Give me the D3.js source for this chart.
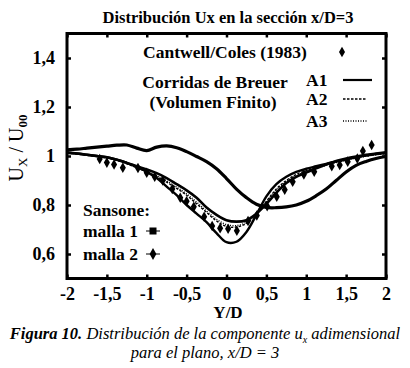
<!DOCTYPE html>
<html>
<head>
<meta charset="utf-8">
<script src="https://cdn.jsdelivr.net/npm/d3@7"></script>
<style>
  body { margin: 0; background: #fff; }
</style>
</head>
<body>
<div id="chart"></div>
<script>
// posiciones Y/D comunes para las curvas
const gridYD = [-2, -1.875, -1.75, -1.625, -1.5, -1.375, -1.25, -1.125, -1, -0.875, -0.75, -0.625, -0.5, -0.375, -0.25, -0.125,
  0, 0.125, 0.25, 0.375, 0.5, 0.625, 0.75, 0.875, 1, 1.125, 1.25, 1.375, 1.5, 1.625, 1.75, 1.875, 2];

// Sansone malla 1 (curva desplazada)
const malla1 = [1.025, 1.028, 1.032, 1.036, 1.040, 1.044, 1.045, 1.032, 1.022, 1.036, 1.041, 1.034, 1.018, 0.998, 0.977, 0.948,
  0.908, 0.865, 0.83, 0.803, 0.79, 0.789, 0.792, 0.80, 0.815, 0.838, 0.865, 0.90, 0.935, 0.962, 0.978, 0.99, 0.998];
// Sansone malla 2
const malla2 = [1.015, 1.01, 1.005, 1.0, 0.995, 0.985, 0.972, 0.958, 0.945, 0.93, 0.91, 0.885, 0.86, 0.83, 0.79, 0.76,
  0.738, 0.732, 0.738, 0.765, 0.805, 0.85, 0.89, 0.915, 0.932, 0.95, 0.965, 0.98, 0.99, 0.998, 1.005, 1.01, 1.015];
// Breuer A1, A2, A3
const breuerA1 = [1.012, 1.01, 1.005, 1.0, 0.995, 0.985, 0.972, 0.955, 0.935, 0.91, 0.875, 0.84, 0.80, 0.765, 0.73, 0.685,
  0.648, 0.65, 0.69, 0.76, 0.835, 0.885, 0.915, 0.935, 0.948, 0.958, 0.968, 0.978, 0.985, 0.995, 1.002, 1.008, 1.012];
const breuerA2 = [1.012, 1.008, 1.003, 0.998, 0.992, 0.982, 0.968, 0.952, 0.935, 0.915, 0.893, 0.868, 0.84, 0.805, 0.77, 0.735,
  0.712, 0.71, 0.725, 0.765, 0.815, 0.865, 0.9, 0.925, 0.94, 0.953, 0.965, 0.975, 0.985, 0.993, 1.0, 1.006, 1.01];
const breuerA3 = [1.013, 1.009, 1.004, 0.999, 0.993, 0.984, 0.97, 0.955, 0.94, 0.92, 0.898, 0.873, 0.845, 0.812, 0.775, 0.742,
  0.72, 0.716, 0.73, 0.768, 0.812, 0.86, 0.895, 0.92, 0.937, 0.95, 0.962, 0.973, 0.983, 0.992, 0.999, 1.005, 1.01];

// Cantwell/Coles (1983) puntos experimentales
const cantwellYD = [-1.59, -1.50, -1.41, -1.30, -1.11, -1.00, -0.90, -0.80, -0.68, -0.58, -0.50, -0.41, -0.28, -0.18, -0.08,
  0.02, 0.13, 0.27, 0.38, 0.51, 0.63, 0.73, 0.83, 0.97, 1.10, 1.32, 1.42, 1.52, 1.64, 1.71, 1.82];
const cantwellUx = [0.988, 0.973, 0.965, 0.952, 0.951, 0.932, 0.915, 0.90, 0.865, 0.83, 0.815, 0.793, 0.752, 0.714, 0.705,
  0.703, 0.695, 0.735, 0.757, 0.795, 0.834, 0.862, 0.895, 0.925, 0.936, 0.958, 0.963, 0.977, 0.99, 1.02, 1.045];

const xTicks = [-2, -1.5, -1, -0.5, 0, 0.5, 1, 1.5, 2];
const yTicks = [0.6, 0.8, 1, 1.2, 1.4];

const SERIF = "Liberation Serif, serif";

const W = 410, H = 368;
const margin = {top: 33.5, right: 24, bottom: 89.5, left: 67};
const width = W - margin.left - margin.right,
      height = H - margin.top - margin.bottom;

const svg = d3.select("#chart").append("svg")
  .attr("width", W).attr("height", H)
  .attr("font-family", SERIF);

const g = svg.append("g").attr("transform", `translate(${margin.left},${margin.top})`);

const x = d3.scaleLinear().domain([-2, 2]).range([0, width]);
const y = d3.scaleLinear().domain([0.5, 1.5]).range([height, 0]);

const fmt = d => String(d).replace(".", ",");

// titulo
svg.append("text")
  .attr("x", 228).attr("y", 23)
  .attr("text-anchor", "middle")
  .style("font-size", "16.5px").style("font-weight", "bold")
  .text("Distribución Ux en la sección x/D=3");

// curvas
const line = vals => d3.line()
  .x((d, i) => x(gridYD[i]))
  .y(d => y(d))
  .curve(d3.curveCatmullRom)(vals);

g.append("clipPath").attr("id", "clip")
  .append("rect").attr("width", width).attr("height", height);
const plot = g.append("g").attr("clip-path", "url(#clip)");

plot.append("path").attr("d", line(malla1))
  .attr("fill", "none").attr("stroke", "#000").attr("stroke-width", 3.2);
plot.append("path").attr("d", line(malla2))
  .attr("fill", "none").attr("stroke", "#000").attr("stroke-width", 2.6);
plot.append("path").attr("d", line(breuerA1))
  .attr("fill", "none").attr("stroke", "#000").attr("stroke-width", 2.4);
plot.append("path").attr("d", line(breuerA2))
  .attr("fill", "none").attr("stroke", "#000").attr("stroke-width", 1.4).attr("stroke-dasharray", "2.5,1.5");
plot.append("path").attr("d", line(breuerA3))
  .attr("fill", "none").attr("stroke", "#000").attr("stroke-width", 1.4).attr("stroke-dasharray", "1,1.5");

const diamond = d3.symbol().type(d3.symbolDiamond).size(32);
plot.selectAll(".cc")
  .data(cantwellYD.map((v, i) => [v, cantwellUx[i]]))
  .enter().append("path")
  .attr("class", "cc")
  .attr("d", diamond)
  .attr("transform", d => `translate(${x(d[0])},${y(d[1])})`)
  .attr("fill", "#000");

// ejes
const axB = g.append("g").attr("transform", `translate(0,${height})`)
  .call(d3.axisBottom(x).tickValues(xTicks).tickSize(-4).tickPadding(9).tickFormat(fmt));
const axT = g.append("g")
  .call(d3.axisTop(x).tickValues(xTicks).tickSize(-4).tickFormat(""));
const axL = g.append("g")
  .call(d3.axisLeft(y).tickValues(yTicks).tickSize(-4).tickPadding(12).tickFormat(fmt));
const axR = g.append("g").attr("transform", `translate(${width},0)`)
  .call(d3.axisRight(y).tickValues(yTicks).tickSize(-4).tickFormat(""));

[axB, axT, axL, axR].forEach(a => {
  a.attr("font-family", SERIF).attr("font-size", 18).attr("font-weight", "bold");
  a.select(".domain").remove();
  a.selectAll(".tick line").attr("stroke", "#000").attr("stroke-width", 2.5);
  a.selectAll("text").attr("fill", "#000");
});

g.append("rect").attr("width", width).attr("height", height)
  .attr("fill", "none").attr("stroke", "#000").attr("stroke-width", 3);

// leyenda
const leg = g.append("g").attr("font-family", SERIF)
  .style("font-size", "17.5px").style("font-weight", "bold");
leg.append("text").attr("x", 225 - margin.left).attr("y", 58 - margin.top)
  .attr("text-anchor", "middle").text("Cantwell/Coles (1983)");
leg.append("path").attr("d", diamond)
  .attr("transform", `translate(${342 - margin.left},${52 - margin.top})`);
leg.append("text").attr("x", 215 - margin.left).attr("y", 88 - margin.top)
  .attr("text-anchor", "middle").text("Corridas de Breuer");
leg.append("text").attr("x", 213 - margin.left).attr("y", 108 - margin.top)
  .attr("text-anchor", "middle").text("(Volumen Finito)");

const legLines = [
  {name: "A1", yy: 86, w: 2.2, dash: null, x2: 372},
  {name: "A2", yy: 105, w: 1.4, dash: "2.5,1.5", x2: 367},
  {name: "A3", yy: 127, w: 1.4, dash: "1,1.5", x2: 367}
];
legLines.forEach(l => {
  leg.append("text").attr("x", 306 - margin.left).attr("y", l.yy - margin.top).text(l.name);
  leg.append("line")
    .attr("x1", 343 - margin.left).attr("x2", l.x2 - margin.left)
    .attr("y1", l.yy - 6 - margin.top).attr("y2", l.yy - 6 - margin.top)
    .attr("stroke", "#000").attr("stroke-width", l.w)
    .attr("stroke-dasharray", l.dash);
});

leg.append("text").attr("x", 83 - margin.left).attr("y", 216 - margin.top).text("Sansone:");
leg.append("text").attr("x", 83 - margin.left).attr("y", 237 - margin.top).text("malla 1");
leg.append("text").attr("x", 83 - margin.left).attr("y", 260 - margin.top).text("malla 2");
leg.append("line").attr("x1", 146 - margin.left).attr("x2", 160 - margin.left)
  .attr("y1", 231 - margin.top).attr("y2", 231 - margin.top).attr("stroke", "#000").attr("stroke-width", 1);
leg.append("rect").attr("x", 149.5 - margin.left).attr("y", 227.5 - margin.top)
  .attr("width", 7).attr("height", 7).attr("fill", "#000");
leg.append("line").attr("x1", 146 - margin.left).attr("x2", 160 - margin.left)
  .attr("y1", 254 - margin.top).attr("y2", 254 - margin.top).attr("stroke", "#000").attr("stroke-width", 1);
leg.append("path").attr("d", d3.symbol().type(d3.symbolDiamond).size(40))
  .attr("transform", `translate(${153 - margin.left},${254 - margin.top})`);

// etiquetas de ejes
svg.append("text").attr("x", 228).attr("y", 318)
  .attr("text-anchor", "middle")
  .style("font-size", "17px").style("font-weight", "bold").text("Y/D");

const yl = svg.append("text")
  .attr("transform", "translate(23,148) rotate(-90)")
  .attr("text-anchor", "middle")
  .style("font-size", "20px");
yl.append("tspan").text("U");
yl.append("tspan").attr("dy", 4).style("font-size", "13px").text("X");
yl.append("tspan").attr("dy", -4).text(" / U");
yl.append("tspan").attr("dy", 4).style("font-size", "13px").style("font-weight", "bold").text("00");

// pie de figura
const cap1 = svg.append("text").attr("x", 205).attr("y", 339)
  .attr("text-anchor", "middle")
  .style("font-size", "16.5px").style("font-style", "italic");
cap1.append("tspan").style("font-weight", "bold").text("Figura 10.");
cap1.append("tspan").text(" Distribución de la componente u");
cap1.append("tspan").attr("dy", 4).style("font-size", "10px").text("x");
cap1.append("tspan").attr("dy", -4).text(" adimensional");

svg.append("text").attr("x", 205).attr("y", 358)
  .attr("text-anchor", "middle")
  .style("font-size", "16.5px").style("font-style", "italic")
  .text("para el plano, x/D = 3");
</script>
</body>
</html>
